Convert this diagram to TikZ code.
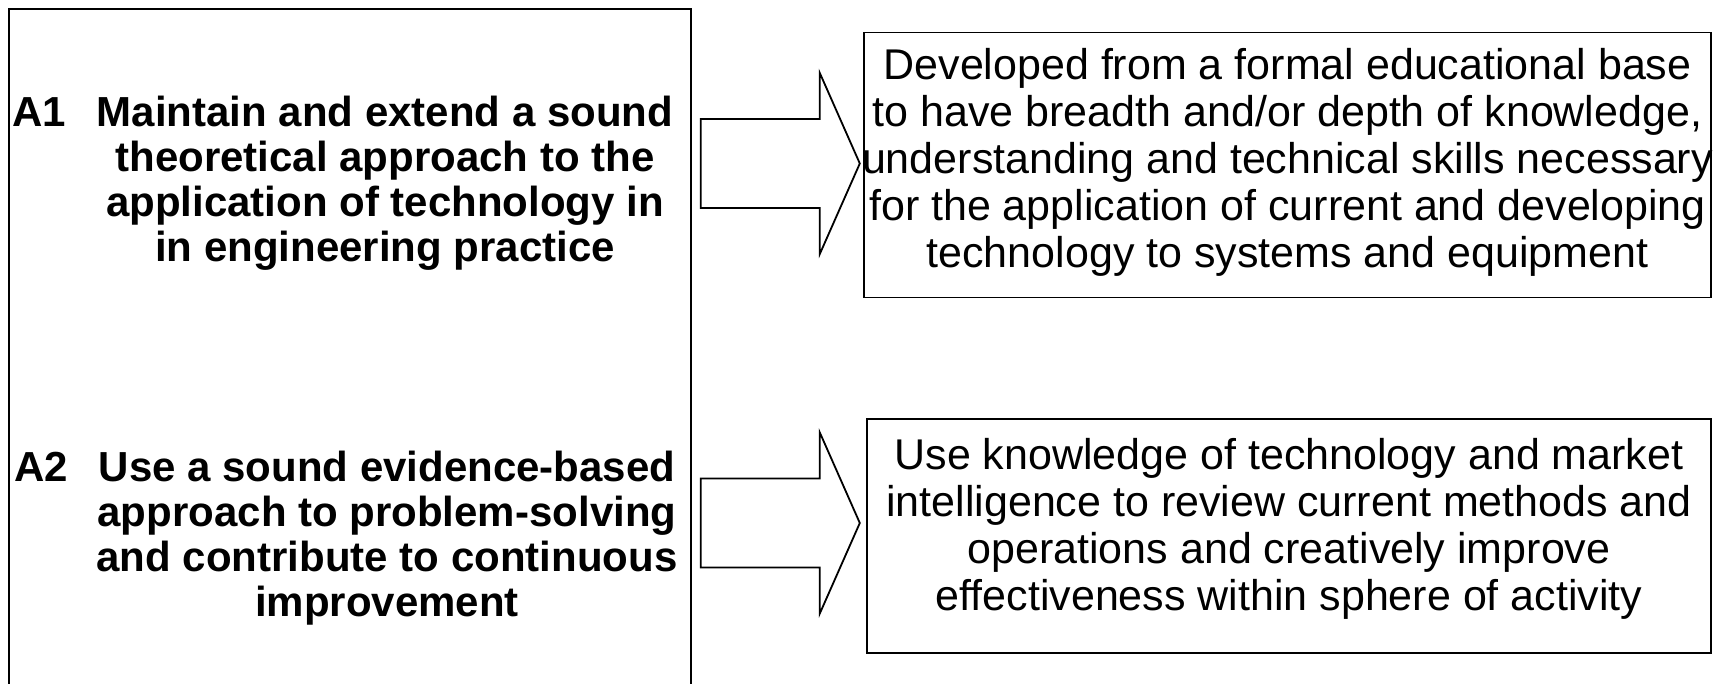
\documentclass[tikz,border=0pt]{standalone}
\usepackage{fontspec}
\setmainfont{Liberation Sans}
\usetikzlibrary{calc}
\tikzset{
  frame/.style={draw=black, line width=1.8pt, inner sep=0pt},
  leftbox/.style={frame, anchor=north west},
  goaltext/.style={align=center, inner sep=0pt, font=\fontsize{43}{47}\selectfont},
  aimtext/.style={align=center, inner sep=0pt, font=\bfseries\fontsize{42}{45}\selectfont},
  arrowline/.style={draw=black, line width=1.8pt, line join=miter, fill=white},
  pics/blockarrow/.style={code={
    \draw[arrowline] (0,-44.5) -- (119,-44.5) -- (119,-90.5) -- (159,0)
      -- (119,90.5) -- (119,44.5) -- (0,44.5) -- cycle;}}
}
\begin{document}
\begin{tikzpicture}[x=1pt, y=-1pt]
  \useasboundingbox (0,0) rectangle (1728,683);
  % tall frame holding the two aims (runs off the bottom edge)
  \node[leftbox, minimum width=682pt, minimum height=680pt] (L) at (8,8) {};
  \node[aimtext] (A1) at (385,183.5)
    {\llap{A1\hspace{31pt}}Maintain and extend a sound\\
     theoretical approach to the\\
     application of technology in\\
     in engineering practice};
  \node[aimtext] (A2) at (387,538.5)
    {\llap{A2\hspace{31pt}}Use a sound evidence-based\\
     approach to problem-solving\\
     and contribute to continuous\\
     improvement};
  % outcome boxes and their texts
  \node[frame, minimum width=847pt, minimum height=265pt] (R1) at (1287.5,165) {};
  \node[goaltext] (T1) at ($(R1.center)+(0,-3)$)
    {Developed from a formal educational base\\
     to have breadth and/or depth of knowledge,\\
     understanding and technical skills necessary\\
     for the application of current and developing\\
     technology to systems and equipment};
  \node[frame, minimum width=844pt, minimum height=234pt] (R2) at (1289,536) {};
  \node[goaltext] (T2) at ($(R2.center)+(0,-7)$)
    {Use knowledge of technology and market\\
     intelligence to review current methods and\\
     operations and creatively improve\\
     effectiveness within sphere of activity};
  % block arrows from each aim to its outcome
  \coordinate (a1) at ($(L.east |- R1.west)+(9,-1.5)$);
  \coordinate (a2) at ($(L.east |- R2.west)+(9,-13)$);
  \path (a1) pic {blockarrow};
  \path (a2) pic {blockarrow};
\end{tikzpicture}
\end{document}
